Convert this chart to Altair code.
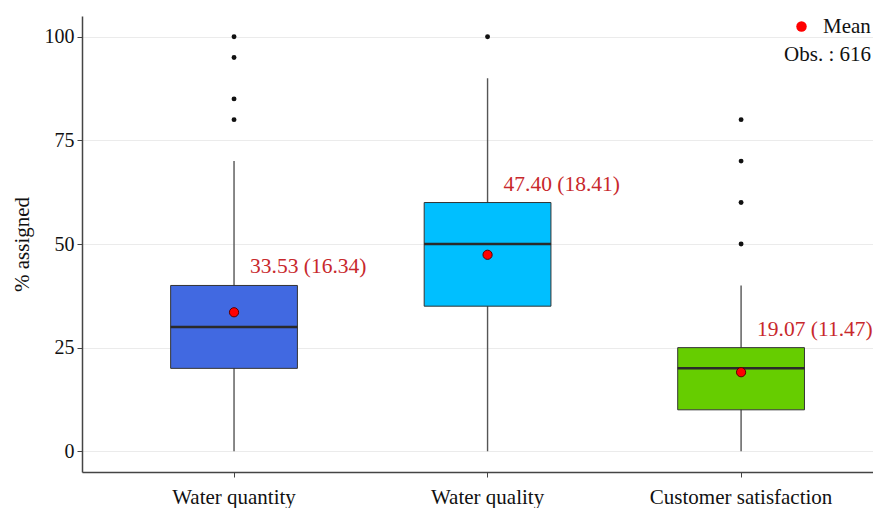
import altair as alt
import pandas as pd

# ---- data ----
categories = ["Water quantity", "Water quality", "Customer satisfaction"]
whisker_low = [0, 0, 0]
q1 = [20, 35, 10]
median = [30, 50, 20]
q3 = [40, 60, 25]
whisker_high = [70, 90, 40]
means = [33.53, 47.40, 19.07]
sds = [16.34, 18.41, 11.47]
box_colors = ["#4169E1", "#00BFFF", "#66CD00"]

outlier_cats = ["Water quantity"] * 4 + ["Water quality"] + ["Customer satisfaction"] * 4
outlier_vals = [80, 85, 95, 100, 100, 50, 60, 70, 80]

n_obs = 616

box_df = pd.DataFrame({
    "cat": categories, "low": whisker_low, "q1": q1, "med": median,
    "q3": q3, "high": whisker_high, "mean": means, "sd": sds,
})
box_df["label"] = [f"{m:.2f} ({s:.2f})" for m, s in zip(means, sds)]
box_df["series"] = "Mean"
out_df = pd.DataFrame({"cat": outlier_cats, "val": outlier_vals})

FONT = "Liberation Serif"

x_enc = alt.X("cat:N", sort=categories, title=None,
              scale=alt.Scale(paddingInner=0.5, paddingOuter=0.31, align=0.564),
              axis=alt.Axis(labelAngle=0, labelFont=FONT, labelFontSize=21,
                            labelColor="#111", labelPadding=9, tickSize=5,
                            labelLimit=0,
                            tickColor="#444", domainColor="#444",
                            domainWidth=1.5, grid=False))
y_scale = alt.Scale(domain=[-5, 105], nice=False, zero=False)
y_axis = alt.Axis(values=[0, 25, 50, 75, 100], title="% assigned",
                  titleFont=FONT, titleFontSize=21, titleFontWeight="normal",
                  titleColor="#111", titlePadding=12,
                  labelFont=FONT, labelFontSize=20, labelColor="#111",
                  labelPadding=3, tickSize=5, tickColor="#444",
                  domainColor="#444", domainWidth=1.5,
                  grid=True, gridColor="#EBEBEB", gridWidth=1)

base = alt.Chart(box_df)

whiskers = base.mark_rule(color="#555555", strokeWidth=1.4).encode(
    x=x_enc,
    y=alt.Y("low:Q", scale=y_scale, axis=y_axis),
    y2="high:Q",
)

boxes = base.mark_bar(stroke="#333333", strokeWidth=1, opacity=1).encode(
    x=x_enc,
    y=alt.Y("q1:Q", scale=y_scale, axis=y_axis),
    y2="q3:Q",
    fill=alt.Fill("cat:N", scale=alt.Scale(domain=categories, range=box_colors),
                  legend=None),
)

medians = base.mark_tick(color="#2a2a2a", thickness=2.5, size=127, opacity=1).encode(
    x=x_enc,
    y=alt.Y("med:Q", scale=y_scale, axis=y_axis),
)

outliers = alt.Chart(out_df).mark_circle(color="#111111", size=24, opacity=1).encode(
    x=x_enc,
    y=alt.Y("val:Q", scale=y_scale, axis=y_axis),
)

mean_pts = base.mark_point(filled=True, fill="#FF0000", stroke="#5a0000",
                           strokeWidth=1, size=85, opacity=1).encode(
    x=x_enc,
    y=alt.Y("mean:Q", scale=y_scale, axis=y_axis),
    shape=alt.Shape("series:N",
                    scale=alt.Scale(domain=["Mean"], range=["circle"]),
                    legend=alt.Legend(
                        title=f"Obs. : {n_obs}", orient="none",
                        legendX=702, legendY=0, padding=0,
                        titleOrient="bottom", titleAnchor="end",
                        titleFont=FONT, titleFontSize=21,
                        titleFontWeight="normal", titleColor="#111",
                        titlePadding=7,
                        labelFont=FONT, labelFontSize=21, labelColor="#111",
                        labelOffset=11, symbolSize=110,
                        symbolFillColor="#FF0000", symbolStrokeColor="#5a0000",
                        symbolStrokeWidth=1, symbolOpacity=1)),
)

labels = base.mark_text(align="left", baseline="middle", dx=16, dy=-18,
                        font=FONT, fontSize=21.5, color="#C8282C").encode(
    x=x_enc,
    y=alt.Y("q3:Q", scale=y_scale, axis=y_axis),
    text="label:N",
)

chart = alt.layer(whiskers, boxes, medians, outliers, mean_pts, labels).properties(
    width=791, height=456,
    autosize=alt.AutoSizeParams(type="none"),
    padding={"left": 74, "top": 8, "right": 0, "bottom": 38},
    background="white",
).configure_view(stroke=None)

chart.save("out.html", embed_options={"renderer": "svg", "actions": False})
